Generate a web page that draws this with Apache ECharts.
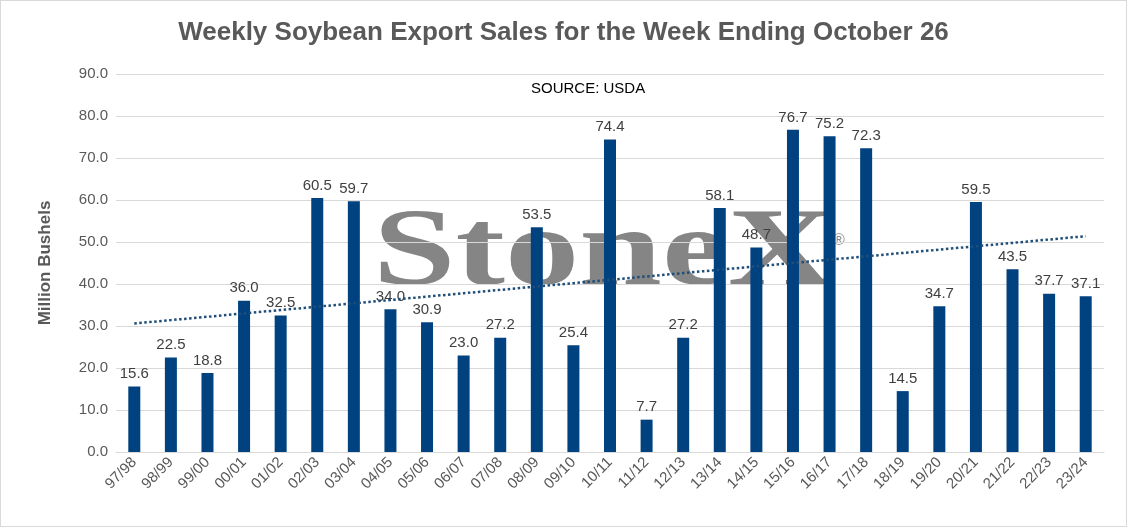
<!DOCTYPE html>
<html><head><meta charset="utf-8">
<script src="https://cdn.jsdelivr.net/npm/echarts@6/dist/echarts.min.js"></script>
<style>html,body{margin:0;padding:0;background:#fff}#c{width:1127px;height:527px;box-sizing:border-box;border:1px solid #d9d9d9}</style>
</head><body><div id="c"></div>
<script>
const categories=["97/98","98/99","99/00","00/01","01/02","02/03","03/04","04/05","05/06","06/07","07/08","08/09","09/10","10/11","11/12","12/13","13/14","14/15","15/16","16/17","17/18","18/19","19/20","20/21","21/22","22/23","23/24"];
const sales=[15.6,22.5,18.8,36.0,32.5,60.5,59.7,34.0,30.9,23.0,27.2,53.5,25.4,74.4,7.7,27.2,58.1,48.7,76.7,75.2,72.3,14.5,34.7,59.5,43.5,37.7,37.1];
// linear trendline (least squares) of the series
const n=sales.length;let sx=0,sy=0,sxy=0,sxx=0;
sales.forEach((v,i)=>{sx+=i;sy+=v;sxy+=i*v;sxx+=i*i;});
const b=(n*sxy-sx*sy)/(n*sxx-sx*sx),a=(sy-b*sx)/n;
const trend=sales.map((v,i)=>+(a+b*i).toFixed(2));
const chart=echarts.init(document.getElementById('c'));
chart.setOption({
 animation:false,
 title:{text:'Weekly Soybean Export Sales for the Week Ending October 26',left:'center',top:14,textStyle:{fontFamily:'Liberation Sans',fontSize:26,fontWeight:'bold',color:'#595959'}},
 graphic:[
  {type:'text',left:530,top:80,style:{text:'SOURCE: USDA',font:'15px Liberation Sans',fill:'#000'}},
  {type:'text',x:372,y:200,scaleX:1.35,z:0,style:{text:'StoneX',font:'bold 110px Liberation Serif',fill:'rgba(120,120,120,0.9)'}},
  {type:'text',left:832,top:232,style:{text:'®',font:'16px Liberation Sans',fill:'#888'}}
 ],
 grid:{left:115,right:22,top:73,bottom:74},
 xAxis:{type:'category',data:categories,axisTick:{show:false},axisLine:{lineStyle:{color:'#d9d9d9'}},
  axisLabel:{rotate:45,color:'#595959',fontSize:15,fontFamily:'Liberation Sans',interval:0}},
 yAxis:{type:'value',min:0,max:90,interval:10,name:'Million Bushels',nameLocation:'middle',nameGap:62,
  nameTextStyle:{fontSize:17,fontWeight:'bold',color:'#595959',fontFamily:'Liberation Sans'},
  axisLabel:{formatter:v=>v.toFixed(1),color:'#595959',fontSize:15,fontFamily:'Liberation Sans'},
  splitLine:{lineStyle:{color:'#d9d9d9'}}},
 series:[
  {type:'bar',data:sales,barWidth:12,z:10,itemStyle:{color:'#004280'},
   label:{show:true,position:'top',formatter:p=>p.value.toFixed(1),color:'#404040',fontSize:15,fontFamily:'Liberation Sans'}},
  {type:'line',data:trend,symbol:'none',lineStyle:{color:'#1f4e79',type:'dotted',width:2.5},z:12}
 ]
});
</script></body></html>
